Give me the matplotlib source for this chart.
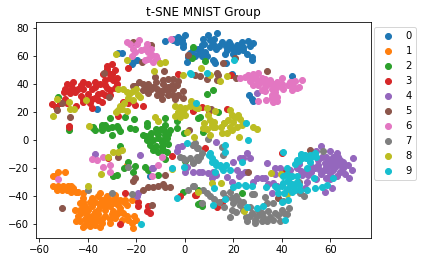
#!/usr/bin/env python3
"""t-SNE embedding of MNIST digits, coloured by digit group."""
import numpy as np
import matplotlib
matplotlib.use("Agg")
import matplotlib.pyplot as plt

labels = ["0", "1", "2", "3", "4", "5", "6", "7", "8", "9"]

group_0 = [(-8.2,70.2),(-4.8,70.9),(-2.7,73.3),(0,74.5),(-3.4,69.7),(-1.3,70.9),(-.6,66.2),(3.5,63.8),(6.2,65),
    (1.4,59.1),(.7,55.5),(-26.1,62.2),(-27.5,62.2),(-19.9,57.2),(-22,54.4),(-21,56),(-36.4,21.7),(13.1,76.1),
    (9.6,74.5),(7.6,72.1),(10.3,70.9),(11.7,68.6),(15.1,69.7),(6.9,67.4),(5.5,65),(10.3,66.2),(8.2,62.6),(18.6,68.6),
    (17.2,63.8),(16.5,61.5),(20,65),(21.3,67.4),(23.4,69.7),(26.1,70.4),(22.7,66.2),(26.8,66.7),(20,61.5),(25.4,61.5),
    (27.5,59.1),(27.5,57.2),(11.7,56.7),(12.4,54.8),(16.9,54.8),(19.2,47.3),(44,45.6),(26.5,31.9),(27.5,29.5),
    (28.2,27.7),(-14.4,-26),(-1,68),(2,62),(4,60),(8,68),(12,72),(13,65),(9,60),(7,60),(19,66),(22,63),(24,66),(28,69),
    (17,67),(14,67),(6,62),(-2,72),(-5,72),(24,64),(12,56),(18,70)]
group_1 = [(-52.2,-22.5),(-49.5,-23),(-54.3,-26),(-53.5,-26),(-54.3,-33.1),(-52.2,-33.1),(-50.2,-33.1),(-48.1,-33.1),
    (-46,-34.3),(-52.9,-35.5),(-50.8,-35.5),(-48.8,-35.5),(-44,-36.7),(-41.9,-37.9),(-41.9,-41.4),(-38.5,-41.4),
    (-43.3,-44.9),(-45.3,-49.7),(-43.3,-49.7),(-41.2,-47.3),(-38.5,-47.3),(-40.5,-53.2),(-38.5,-54.4),(-35.7,-52.8),
    (-33,-54.4),(-43.3,-57.9),(-41.2,-60.3),(-39.2,-61.5),(-37.1,-60.3),(-34.3,-59.1),(-30.9,-59.1),(-35.7,-40.2),
    (-35,-44.9),(-33,-41.9),(-30.9,-42.6),(-28.8,-41.4),(-30.9,-47.3),(-26.8,-42.6),(-27.5,-46.1),(-29.5,-50.9),
    (-26.8,-48.5),(-24.7,-42.6),(-22,-42.6),(-24,-46.1),(-28.8,-55.6),(-26.1,-56.8),(-23.3,-56.8),(-20.2,-56.8),
    (-22,-59.1),(-25.4,-52),(-21.6,-62.7),(-37.1,-55.6),(-39.8,-49.7),(-24,-17.8),(-47,-37),(-42,-44),(-36,-50),
    (-32,-45),(-28,-44),(-40,-57),(-33,-50),(-44,-54),(-47,-33),(-45,-37),(-42,-47),(-39,-44),(-37,-44),(-35,-47),
    (-33,-47),(-34,-43),(-29,-45),(-25,-44),(-27,-51),(-30,-53),(-28,-53),(-24,-54),(-21,-54),(-41,-50),(-37,-51),
    (-34,-56),(-31,-56),(-36,-57),(-38,-58),(-41,-56),(-35,-62),(-45,-58),(-42,-62),(-43,-52),(-32,-40),(-29,-39),(-35,-38)]
group_2 = [(-52.2,30.7),(-37.8,9.5),(-34.3,10.6),(-30.9,15.4),(-30.2,9.5),(-24.7,16.5),(-20.9,14.7),(-15.8,11.8),
    (-8.2,15.4),(-8.2,10.6),(-3.4,13.7),(3.1,58.6),(3.5,66.2),(8.2,56.3),(9.2,32.6),(11.4,35.5),(6.2,16.5),(5.5,16),
    (13.7,19.6),(-37.8,8.2),(-34.3,9.4),(-31.6,8.2),(-37.1,7),(-30.2,3.5),(-27.5,8.2),(-26.8,6.3),(-22.6,8.7),
    (-20.6,7.8),(-15.8,9.9),(-8.2,5.9),(-6.2,7),(-11.6,4.7),(-14.4,2.3),(-17.2,3.5),(-15.8,0),(-13,0),(-11,1.1),
    (-9.6,-1.2),(-14.4,-3.6),(-9.6,-4.8),(-7.5,-8.3),(-11,-8.3),(-26.8,-4),(-8.2,-13.7),(-3.4,8.2),(-.4,4.7),(.2,-14.7),
    (-23.3,-15.9),(-20.6,-18.2),(-16.5,-18.9),(-15.1,-21.3),(-21.3,-23),(-25,-20.1),(-11,-24.9),(-29.5,-25.6),
    (-28.2,-24.9),(-8.2,3.5),(-8.9,0),(-7.5,1.1),(-.6,-36.7),(5.5,-45.7),(23.4,-37.9),(5.5,-35.5),(6.2,-45),(6.9,-47.3),
    (7.6,5.9),(-10,8),(-12,-4),(-9,-7),(-48,7),(-14,5),(-11,4),(-9,8),(-7,4),(-12,8),(-9,-3),(-7,-3),(-16,3),(-34,7),
    (-33,11),(-28,10),(-13,-7)]
group_3 = [(-48.8,40.2),(-49.5,36.6),(-46,36.6),(-47.4,33.1),(-45.3,34.3),(-49.5,29.5),(-51.5,26),(-55,25.5),(-53,23.2),
    (-48.8,26),(-41.9,41.4),(-39.8,40.2),(-41.9,36.6),(-38.5,36.6),(-37.1,37.8),(-40.5,29.5),(-41.9,29.5),(-38.5,29.5),
    (-39.2,26),(-35.7,28.4),(-38.5,22.5),(-34.3,27.2),(-33,39),(-30.2,47.3),(-33.6,47.3),(-32.3,50.8),(-30.2,54.4),
    (-29.5,42.5),(-33,42.5),(-28.2,40.2),(-30.9,35.5),(-33,32),(-30.9,32),(-34.3,33.1),(-25.4,27.2),(-23.3,26),
    (-20.6,24.8),(-17.2,24.1),(-23.3,51.5),(-35,40.2),(-44.9,24.1),(-27.7,17.3),(3.5,21.3),(-2.7,47.3),(-48,9),
    (18.8,46.1),(6.9,23.2),(3.4,20.8),(9.9,20.8),(17.5,21.7),(-48,10),(-31.6,-13),(-5.2,-11.2),(-24.7,-37.9),
    (-19.2,-44.2),(-19.2,-47.3),(-15.1,-47.3),(-15.8,-50.9),(-14.4,-52),(-26.8,-59.8),(-2,-40.2),(4.4,-39.5),(8.2,-5.9),
    (40.2,-9.5),(40.6,-23),(4.1,-39.5),(13.1,-47.8),(15.1,-44.2),(-47,39),(-46,41),(-50,34),(-44,36),(-43,31),(-40,33),
    (-37,30),(-36,33),(-32,37),(-29,37),(-31,44),(-29,50),(-31,47),(-32,53),(-43,39),(-37,41),(-48,35),(-42,27),(-28,44)]
group_4 = [(-37.1,-10.2),(-18.5,-10.7),(-2.7,-4.8),(-1.3,-4.3),(-3.4,-7.8),(0,-22.5),(3.2,-22.5),(.7,-19),(-13,-19.7),
    (-13.7,-19.7),(-19.2,-37.9),(-19.6,-40.2),(6,-23),(12.8,-1.2),(6.9,-23),(9.6,-23.7),(11,-27.2),(11.7,-22.5),
    (20,-15.9),(22.7,-12.6),(25.4,-9.5),(24,-12.6),(34,-16.6),(21.3,-21.3),(17.5,-26.5),(22.4,-26),(24.8,-22.5),
    (19.3,-29.6),(28.2,-30),(31.6,-27.2),(33,-27.2),(36.4,-30.8),(35.7,-37.9),(37.1,-20.1),(39.2,-19.7),(43.3,-21.3),
    (46,-20.1),(48.1,-24.9),(50.9,-24.9),(53.6,-20.1),(50.2,-29.6),(56.4,-11.9),(59.8,-7.8),(62.6,-9.5),(56,-4),
    (57.7,-16.6),(59.8,-17.8),(61.9,-15.4),(63.9,-17.8),(58.4,-21.3),(61.2,-21.3),(63.9,-22.5),(59.8,-24.9),(67.4,-17.8),
    (69,-21.3),(69.4,-12.6),(67.6,-27.2),(62.6,-26),(60.5,-34.3),(57.7,-36.7),(55.7,-21.3),(52.2,-18.9),(49.5,-22.5),
    (49.5,-34.3),(34.4,-31.5),(29.6,-27.2),(29.6,33.8),(55,-14),(58,-12),(61,-12),(64,-14),(56,-24),(60,-28),(58,-19),
    (60,-14),(62,-19),(65,-20),(55,-18),(57,-22),(54,-8),(63,-12),(66,-24),(48,-22),(47,-17),(52,-23),(54,-28),(58,-27),
    (65,-16),(23,-24),(37,-24),(38,-33),(13,-25),(27,-13)]
group_5 = [(-21.3,69.7),(-14.1,67.4),(-17.8,55.5),(-33.2,48),(-50.6,26),(-52.9,21.3),(-47.4,16.5),(-31.2,30.3),
    (-20.6,38.5),(-21.3,38.5),(-17.2,40.2),(-15.1,40.2),(-17.2,35.5),(-15.8,37.8),(-12.3,44.9),(-8.5,49.2),(-11.6,36.6),
    (-8.9,40.2),(-6.9,43.7),(-4.8,43.7),(-5.5,39),(-3.4,39),(-8.2,36.6),(-11.6,32),(-9.6,29.5),(-6.9,32),(-4.8,32),
    (-2.7,32),(-15.1,33.6),(1.4,60.3),(20.6,58.6),(15.8,55.1),(33.7,48.9),(4.1,46.1),(6.2,45.6),(9.2,43.7),(13.1,47.8),
    (13.8,46.1),(13.1,43),(21,44.4),(10.6,21.7),(1.8,7),(-27.5,-11.9),(-8.2,-24.9),(-20.6,-27.2),(-21.3,-29.1),
    (-50.8,-48.5),(-13.7,-46.1),(-17.2,-35.5),(-15.1,-33.6),(-13,-33.6),(-11,-33.1),(-8.9,-31.5),(-8.2,-33.8),(-6.2,-33.6),
    (26.1,-23),(51.6,-7.1),(38.5,-41.4),(-13,38),(-10,35),(-7,35),(-7,38),(-9,43),(-5,36),(-1,35),(-14,36),(-19,41),
    (-3,42),(-10,33),(-12,41),(-4,29),(-1,30)]
group_6 = [(-22.6,68.1),(-19.9,68.6),(-21.3,65),(-20.6,62.6),(-15.8,68.6),(-16.5,65),(-15.1,62.6),(-22,59.6),(-16.5,57.2),
    (-13.7,60.3),(-11.6,57.9),(-15.1,57.9),(-13,55.5),(-5.9,72.1),(22.7,44.4),(24.8,44.9),(28.2,47.3),(30.2,47.8),
    (28.2,44.4),(29.6,42.5),(31.6,44.4),(33,43.7),(28.2,39),(30.2,39),(31.6,35.5),(34.4,40.2),(36.4,40.2),(35.7,36.6),
    (37.8,37.8),(39.9,44.4),(37.1,34.3),(43.3,41.4),(40.6,36.6),(42.6,39),(44,35.5),(46.1,37.1),(45.4,41.8),(48.1,42.5),
    (30.2,27.7),(33.3,28.4),(36.4,27.2),(38.1,30.3),(-38.5,-13.8),(-36.4,-14.2),(-33.9,-12.3),(-33.6,-18.9),(-30.9,-17.8),
    (-30.9,-22.5),(-52.2,-27.9),(-9.3,-11.9),(-11,-17.8),(-13.4,-26),(-18,64),(-14,65),(-24,70),(-19,71),(-12,60),(27,42),
    (29,45),(33,38),(35,43),(38,41),(33,35),(36,32),(40,40),(47,38),(44,39),(38,28),(36,30),(26,46),(32,41),(44,41)]
group_7 = [(3.5,-3.6),(4.9,-6),(-2,-12.3),(0,-14.2),(3.5,-15.4),(5.5,-14.2),(-23.3,-18.9),(-39.8,-35.5),(-30.2,-37.9),
    (-22,-38.6),(1.4,-35.5),(3.5,-33.1),(3.4,-3.6),(5.5,-6),(9.6,.4),(15.1,-4.8),(15.8,-10.7),(6.2,-11.9),(3.4,-16.6),
    (3.7,-32.7),(7.6,-35.5),(10.3,-40.2),(6.9,-45),(15.8,-37.9),(18.6,-36.7),(19.3,-41.4),(22,-42.6),(22.7,-46.1),
    (19.3,-49.7),(18.6,-55.1),(27.5,-38.6),(28.5,-38.6),(33,-40.7),(33.7,-45),(36.4,-45),(40.6,-43.8),(43,-48.5),
    (39.9,-49.7),(38.5,-53.2),(34.4,-50.9),(31.6,-52),(27.5,-52),(29.6,-54.4),(25.4,-58),(28.9,-59.1),(33.7,-58),
    (36.4,-56.8),(39.2,-58),(31.6,-58),(26.8,-54.4),(56.8,-7.6),(47.2,-29.6),(49.1,-39.8),(47.4,-37.9),(16.2,11.8),
    (4,-2),(7,-9),(5,-12),(-1,-13),(2,-13),(20,-45),(21,-40),(24,-44),(17,-41),(12,-42),(14,-44),(9,-38),(24,-50),(30,-50),
    (37,-52),(41,-52),(35,-55),(29,-57),(25,-55),(32,-55),(42,-53),(27,-48),(16,-48),(21,-51)]
group_8 = [(-28.4,61.5),(-23.7,57.2),(-10.3,54.8),(-8.2,55.5),(-12.6,48.9),(-.6,46.6),(-27.5,36.6),(-25.7,36),(-21.3,35),
    (-22.6,33.1),(-19.2,32),(-18.5,30.3),(-23.3,30),(-21.3,28.4),(-26.8,24.1),(-27.5,21.3),(-28.4,20.1),(-23.7,20.6),
    (-40.9,28.4),(-52.9,29.5),(-47.7,26.7),(-47.4,21.7),(-45.8,21.7),(-54.3,17),(-12.3,16.5),(-11.2,13.7),(-2,23.6),
    (0,23.1),(-2.7,20.1),(-.6,18.9),(2.1,24.1),(-2,16.5),(4.9,22.5),(-39.4,9.9),(6.5,51.3),(10.3,46.6),(14.4,41.8),
    (17.5,45.4),(2.7,27.7),(4.1,23.2),(5.5,22.5),(18.6,21.3),(12.4,20.8),(9.6,17.7),(10.3,14.2),(11,10.6),(7.6,8.3),
    (11.7,9),(19.3,17.7),(20.6,16.5),(17.9,14.2),(20,13),(22.7,14.7),(23.4,10.6),(18.6,9.5),(21.3,9.5),(28.2,9),
    (-29.8,-8.3),(-27.5,-8.3),(-26.1,-7.1),(-31.6,-11.9),(-34.8,-24.4),(-39.8,-32.7),(1,5.4),(3.9,2.3),(-5.5,-20.6),
    (12.4,9.4),(15.1,4.7),(17.2,4.7),(19.3,7),(22.4,2.3),(29.6,7.8),(10.3,3.5),(11,-30.8),(14.8,-30.8),(35.3,-23.7),
    (39.5,-24.4),(42.2,-38.6),(24.3,-50.4),(5.5,-36.7),(-24,34),(-20,36),(-26,22),(-25,26),(22,18),(24,12),(16,12),(15,9),
    (9,8),(8,12),(12,13),(9,23),(-4,24),(-1,21),(-4,17),(0,18)]
group_9 = [(2.1,47.8),(20.4,57.2),(2.5,47.3),(9.2,48),(4.5,26),(25.2,11.8),(1,-2.4),(-5.2,-20.1),(-.4,-19.4),(-3.1,-41.4),
    (-18.1,-59.8),(25.9,0),(16.5,-3.6),(10.3,-9.5),(11,-13),(12.4,-15.4),(16.5,-8.8),(23.7,-15.9),(14.4,-17.8),(15.8,-21.3),
    (12.4,-22.5),(18.6,-21.3),(12.1,-34.3),(16.5,-41.9),(11.7,-46.1),(20,-33.8),(22,-32),(24.8,-32),(27.5,-33.1),
    (25.7,-48),(29.6,-48.5),(32.3,-46.8),(33.3,-33.6),(40.6,-8.3),(42.2,-19.7),(45.5,-17.3),(48.1,-13),(49.5,-10.7),
    (51.6,-10.7),(53.6,-9.5),(51.6,-15.4),(50.2,-20.1),(53.2,-26.8),(40.6,-26),(42.6,-28.4),(46.1,-29.6),(40.6,-30.8),
    (43.3,-33.1),(37.8,-34.3),(38.5,-37.9),(45.4,-35.5),(47.4,-35.5),(50.2,-35.5),(53.6,-34.3),(56.4,-33.8),(58.4,-32),
    (61.2,-26.8),(39.9,-44.2),(42.6,-42.6),(41.3,-57.2),(37.1,-33.1),(48,-11),(46,-14),(44,-31),(42,-24),(13,-18),(15,-19),
    (17,-18),(10,-11),(11,-16),(44,-26),(46,-26),(43,-30),(45,-32),(47,-32),(42,-35),(40,-33),(48,-10),(50,-13),(52,-12),
    (54,-12),(47,-15),(44,-37),(41,-38),(25,-33)]
groups = [group_0, group_1, group_2, group_3, group_4, group_5, group_6, group_7, group_8, group_9]

fig = plt.figure(figsize=(422 / 72, 264 / 72), dpi=72)
ax = fig.add_axes([36 / 422, 1 - 238 / 264, 335 / 422, 216 / 264])
for lab, pts in zip(labels, groups):
    pts = np.array(pts)
    ax.scatter(pts[:, 0], pts[:, 1], s=36, label=lab)
ax.set_xlim(-61.4, 76.7)
ax.set_ylim(-69.8, 84)
ax.set_title("t-SNE MNIST Group", fontsize=12)
ax.legend(loc="upper left", bbox_to_anchor=(1.0, 0.99), borderaxespad=0.25, fontsize=10)
fig.savefig("out.png", dpi=72)
